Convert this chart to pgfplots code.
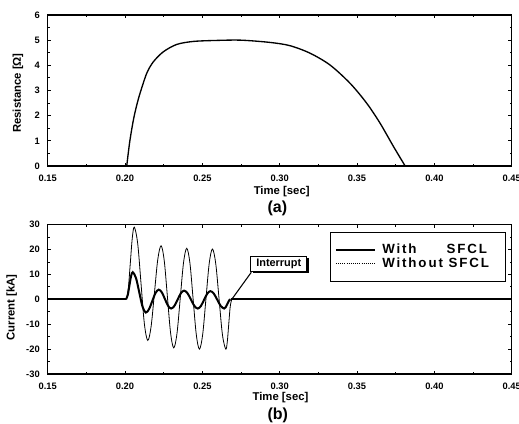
\documentclass[border=0pt]{standalone}
\usepackage{fontspec}
\setmainfont{Liberation Sans}
\newfontfamily\legfont[LetterSpace=14]{Liberation Sans}
\usepackage{pgfplots}
\pgfplotsset{compat=1.18}
\usetikzlibrary{shadows}

\pgfplotstableread{
t R
0.2011 0
0.2030 0.95
0.2054 1.83
0.2075 2.40
0.2097 2.89
0.2140 3.68
0.2183 4.14
0.2248 4.54
0.2334 4.83
0.2442 4.95
0.2593 4.99
0.2750 5.00
0.2938 4.91
0.3067 4.78
0.3197 4.48
0.3326 4.01
0.3456 3.28
0.3563 2.49
0.3649 1.70
0.3736 0.77
0.3811 0
}\resist

\pgfplotstableread{
t I
0.2006 0
0.2017 1.6
0.2028 5.45
0.2039 9.3
0.2050 10.9
0.2071 8.53
0.2092 2.8
0.2113 -2.93
0.2134 -5.3
0.2155 -3.95
0.2176 -0.7
0.2197 2.55
0.2218 3.9
0.2238 2.79
0.2258 0.1
0.2278 -2.59
0.2298 -3.7
0.2319 -2.65
0.2340 -0.1
0.2361 2.45
0.2382 3.5
0.2404 2.45
0.2426 -0.1
0.2448 -2.65
0.2470 -3.7
0.24905 -2.67
0.2511 -0.2
0.25315 2.27
0.2552 3.3
0.25743 2.27
0.25965 -0.2
0.26188 -2.67
0.2641 -3.7
0.26513 -3.16
0.26615 -1.85
0.26718 -0.54
0.2682 0
}\withsfcl

\pgfplotstableread{
t I
0.2008 0
0.2021 4.25
0.2034 14.5
0.2047 24.75
0.2060 29
0.2082 22.33
0.21035 6.25
0.2125 -9.83
0.2147 -16.5
0.21685 -10.93
0.2190 2.5
0.22115 15.93
0.2233 21.5
0.22535 15.49
0.2274 1
0.22945 -13.49
0.2315 -19.5
0.2336 -13.64
0.2357 0.5
0.2378 14.64
0.2399 20.5
0.24195 14.57
0.2440 0.25
0.24605 -14.07
0.2481 -20
0.2502 -14.11
0.2523 0.1
0.2544 14.31
0.2565 20.2
0.25865 14.31
0.2608 0.1
0.26295 -14.11
0.2651 -20
0.2661 -17.07
0.26705 -10
0.2680 -2.93
0.2690 0
}\withoutsfcl

\pgfplotsset{
  myaxis/.style={
    scale only axis, width=348pt,
    xmin=0.15, xmax=0.45,
    xtick={0.15,0.20,0.25,0.30,0.35,0.40,0.45},
    minor x tick num=1, minor y tick num=1,
    tick align=inside,
    xtick pos=both, ytick pos=both,
    xticklabel pos=lower, yticklabel pos=left,
    major tick length=2.6pt, minor tick length=1.6pt,
    every tick/.style={black, line width=0.7pt},
    axis line style={line width=0.9pt},
    /pgf/number format/assume math mode=true,
    xticklabel style={/pgf/number format/fixed, /pgf/number format/fixed zerofill, /pgf/number format/precision=2},
    tick label style={font=\fontsize{7}{8}\selectfont\bfseries},
    xticklabel style={anchor=north, inner sep=0pt, yshift=-6.7pt},
    yticklabel style={anchor=east, inner sep=0pt, xshift=-5.8pt},
  }
}
\tikzset{lab/.style={font=\fontsize{8.5}{10}\selectfont\bfseries, inner sep=0pt, anchor=center},
  ttl/.style={font=\fontsize{12}{14}\selectfont\bfseries, inner sep=0pt, anchor=center}}

\begin{document}
\begin{tikzpicture}
\useasboundingbox (0,0) rectangle (389.25pt,318pt);

\begin{axis}[myaxis, name=ra,
  at={(35.78pt,193.5pt)}, anchor=south west,
  height=113.25pt,
  ymin=0, ymax=6, ytick={0,1,2,3,4,5,6},
]
\addplot[black, line width=1pt, smooth, tension=0.5] table[x=t, y=R] {\resist};
\end{axis}
\node[lab] at ([xshift=1.5pt, yshift=-19.5pt]ra.south) {Time [sec]};
\node[ttl] at ([xshift=-1.8pt, yshift=-31.8pt]ra.south) {(a)};
\node[lab, rotate=90] at ([xshift=-22.3pt, yshift=-1.9pt]ra.west) {Resistance [Ω]};

\begin{axis}[myaxis, name=ca,
  at={(35.78pt,37.5pt)}, anchor=south west,
  height=112pt,
  ymin=-30, ymax=30, ytick={-30,-20,-10,0,10,20,30},
  legend image code/.code={\draw[#1] (0pt,0pt) -- (29pt,0pt);},
  legend cell align=left,
  legend style={at={(0.988,0.953)}, anchor=north east, draw=black,
    line width=0.8pt, fill=white,
    font=\fontsize{10}{12}\selectfont\bfseries\legfont,
    inner xsep=3.5pt, inner ysep=7pt, row sep=-3pt,
    nodes={text height=7.5pt, text depth=2pt, inner ysep=1.75pt, inner xsep=0pt},
    /tikz/every odd column/.append style={column sep=5pt}},
]
\addlegendimage{black, line width=1.5pt}
\addlegendentry{With\phantom{out} SFCL\hspace*{9pt}}
\addlegendimage{black, line width=0.6pt, densely dotted}
\addlegendentry{Without SFCL\hspace*{9pt}}
\addplot[black, line width=0.6pt, smooth, tension=0.55, forget plot] table[x=t, y=I] {\withoutsfcl};
\addplot[black, line width=1.5pt, forget plot] coordinates {(0.15,0) (0.2006,0)};
\addplot[black, line width=1.5pt, forget plot] coordinates {(0.2682,0) (0.45,0)};
\addplot[black, line width=1.5pt, smooth, tension=0.55, forget plot] table[x=t, y=I] {\withsfcl};
\node[draw=black, line width=0.8pt, fill=white, inner sep=0pt,
  minimum width=42pt, minimum height=11.25pt,
  drop shadow={shadow xshift=1.3pt, shadow yshift=-1.3pt, fill=black, opacity=1},
  font=\fontsize{8.2}{10}\selectfont\bfseries] (intr) at (axis cs:0.2994,14.1) {Interrupt};
\draw[black, line width=0.8pt] (axis cs:0.269,0) -- ([xshift=0.8pt]intr.south west);
\end{axis}
\node[lab] at ([xshift=0.6pt, yshift=-18pt]ca.south) {Time [sec]};
\node[ttl] at ([xshift=-1.4pt, yshift=-31pt]ca.south) {(b)};
\node[lab, rotate=90] at ([xshift=-27pt, yshift=-6pt]ca.west) {Current [kA]};
\end{tikzpicture}
\end{document}
